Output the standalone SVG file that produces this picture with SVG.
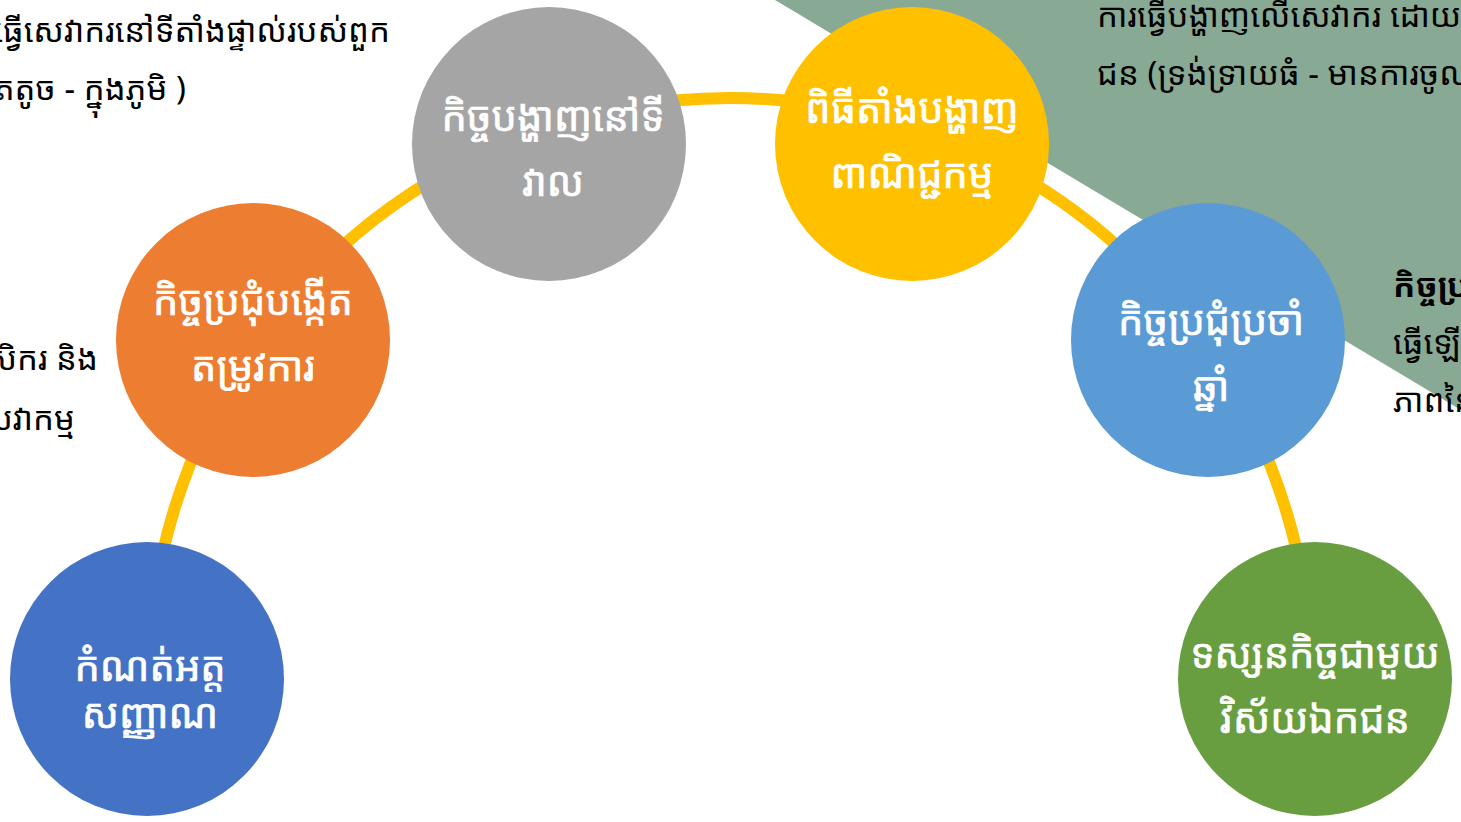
<svg xmlns="http://www.w3.org/2000/svg" width="1461" height="822" viewBox="0 0 1461 822">
<style>
text{font-family:"Noto Sans Khmer","Khmer OS","Khmer OS System","Noto Sans","DejaVu Sans",sans-serif}
.n{fill:#fff;stroke:#fff;stroke-width:0.7;font-size:40px;text-anchor:middle}
.d{fill:#000;font-size:33px}
</style>
<rect width="1461" height="822" fill="#fff"/>
<polygon points="775,0 1461,0 1461,410" fill="#88A994"/>
<g id="connectors">
<path d="M149,679 A581,581 0 0 1 1311,679" fill="none" stroke="#FFC000" stroke-width="12"/>
</g>
<g id="desc-top-left">
<text class="d" x="390" y="42" text-anchor="end">ធ្វើសេវាករនៅទីតាំងផ្ទាល់របស់ពួក</text>
<text class="d" x="186" y="100" text-anchor="end">ខ្នាតតូច - ក្នុងភូមិ )</text>
</g>
<g id="desc-left">
<text class="d" x="98" y="370" text-anchor="end">កសិករ និង</text>
<text class="d" x="75" y="430" text-anchor="end">សេវាកម្ម</text>
</g>
<g id="desc-top-right">
<text class="d" x="1097" y="27">ការធ្វើបង្ហាញលើសេវាករ ដោយវិស័យ</text>
<text class="d" x="1097" y="85">ជន (ទ្រង់ទ្រាយធំ - មានការចូលរួម</text>
</g>
<g id="desc-right">
<text class="d" x="1393" y="297" font-weight="bold">កិច្ចប្រជុំ</text>
<text class="d" x="1393" y="354">ធ្វើឡើង</text>
<text class="d" x="1393" y="412">ភាពនៃ</text>
</g>
<g id="node-identity">
<circle cx="147" cy="679" r="137" fill="#4472C4"/>
<text class="n" x="150" y="681">កំណត់អត្ត</text>
<text class="n" x="150" y="728">សញ្ញាណ</text>
</g>
<g id="node-needs">
<circle cx="253" cy="340" r="137" fill="#ED7D31"/>
<text class="n" x="253" y="315">កិច្ចប្រជុំបង្កើត</text>
<text class="n" x="253" y="381">តម្រូវការ</text>
</g>
<g id="node-field">
<circle cx="549" cy="144" r="137" fill="#A5A5A5"/>
<text class="n" x="553" y="131">កិច្ចបង្ហាញនៅទី</text>
<text class="n" x="553" y="196">វាល</text>
</g>
<g id="node-fair">
<circle cx="912" cy="144" r="137" fill="#FFC000"/>
<text class="n" x="912" y="123">ពិធីតាំងបង្ហាញ</text>
<text class="n" x="912" y="188">ពាណិជ្ជកម្ម</text>
</g>
<g id="node-annual">
<circle cx="1208" cy="340" r="137" fill="#5B9BD5"/>
<text class="n" x="1211" y="335">កិច្ចប្រជុំប្រចាំ</text>
<text class="n" x="1211" y="401">ឆ្នាំ</text>
</g>
<g id="node-private">
<circle cx="1315" cy="679" r="137" fill="#689E3F"/>
<text class="n" x="1315" y="668">ទស្សនកិច្ចជាមួយ</text>
<text class="n" x="1315" y="733">វិស័យឯកជន</text>
</g>
</svg>
